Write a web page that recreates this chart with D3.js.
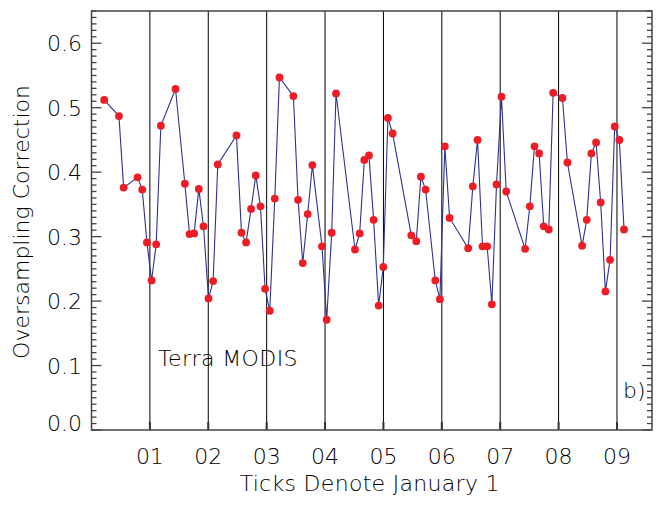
<!DOCTYPE html>
<html>
<head>
<meta charset="utf-8">
<script src="https://cdn.jsdelivr.net/npm/d3@7"></script>
<style>
body { margin: 0; background: #fff; }
text { font-family: "DejaVu Sans", sans-serif; font-weight: 200; fill: #000; }
</style>
</head>
<body>
<script>
"use strict";
// decimal year of each sample and its correction value
const years = [2000.218, 2000.470, 2000.550, 2000.789, 2000.869, 2000.949, 2001.029, 2001.108, 2001.188, 2001.439,
	2001.599, 2001.679, 2001.758, 2001.838, 2001.918, 2002.004, 2002.083, 2002.163, 2002.483, 2002.569,
	2002.648, 2002.733, 2002.814, 2002.894, 2002.973, 2003.053, 2003.139, 2003.219, 2003.458, 2003.538,
	2003.618, 2003.703, 2003.783, 2003.948, 2004.028, 2004.114, 2004.188, 2004.513, 2004.593, 2004.673,
	2004.752, 2004.832, 2004.918, 2004.998, 2005.077, 2005.157, 2005.477, 2005.563, 2005.642, 2005.722,
	2005.888, 2005.967, 2006.052, 2006.133, 2006.452, 2006.531, 2006.612, 2006.697, 2006.777, 2006.857,
	2006.937, 2007.022, 2007.103, 2007.427, 2007.507, 2007.587, 2007.667, 2007.746, 2007.832, 2007.907,
	2008.066, 2008.151, 2008.403, 2008.482, 2008.562, 2008.642, 2008.721, 2008.802, 2008.882, 2008.961,
	2009.041, 2009.121];
const values = [0.512, 0.487, 0.376, 0.392, 0.373, 0.291, 0.232, 0.288, 0.472, 0.529,
	0.382, 0.304, 0.305, 0.374, 0.316, 0.204, 0.231, 0.412, 0.457, 0.306,
	0.291, 0.343, 0.395, 0.347, 0.219, 0.185, 0.359, 0.547, 0.518, 0.357,
	0.259, 0.335, 0.411, 0.285, 0.171, 0.306, 0.522, 0.280, 0.305, 0.419,
	0.426, 0.326, 0.193, 0.253, 0.484, 0.460, 0.302, 0.293, 0.393, 0.373,
	0.232, 0.203, 0.440, 0.329, 0.282, 0.378, 0.450, 0.285, 0.285, 0.195,
	0.381, 0.517, 0.370, 0.281, 0.347, 0.440, 0.429, 0.316, 0.311, 0.523,
	0.515, 0.415, 0.286, 0.326, 0.429, 0.446, 0.353, 0.215, 0.264, 0.471,
	0.450, 0.311];
const yearTicks = [2001, 2002, 2003, 2004, 2005, 2006, 2007, 2008, 2009];
const yearLabels = ["01", "02", "03", "04", "05", "06", "07", "08", "09"];
const valueTicks = [0.0, 0.1, 0.2, 0.3, 0.4, 0.5, 0.6];

const w = 658, h = 505;
const pl = 91.5, pr = 652, pt = 11, pb = 430;

const x = d3.scaleLinear().domain([2000, 2009.6]).range([pl, pr]);
const y = d3.scaleLinear().domain([0, 0.65]).range([pb, pt]);

const svg = d3.select("body").append("svg").attr("width", w).attr("height", h);

// year lines through the whole plot
svg.append("g").selectAll("line").data(yearTicks).enter().append("line")
	.attr("x1", d => x(d)).attr("x2", d => x(d)).attr("y1", pt).attr("y2", pb)
	.attr("stroke", "#000").attr("stroke-width", 1);
svg.append("g").selectAll("line").data(yearTicks).enter().append("line")
	.attr("x1", d => x(d)).attr("x2", d => x(d)).attr("y1", pb).attr("y2", pb - 8)
	.attr("stroke", "#333").attr("stroke-width", 2);

// frame
svg.append("rect").attr("x", pl).attr("y", pt).attr("width", pr - pl).attr("height", pb - pt)
	.attr("fill", "none").attr("stroke", "#444").attr("stroke-width", 1.5);

// y ticks on both sides, major every 0.1, minor every 0.01
const minor = d3.range(0, 66).map(i => i / 100);
const yt = svg.append("g").attr("stroke", "#444").attr("stroke-width", 1.3);
minor.forEach(v => {
	const len = Math.round(v * 100) % 10 === 0 ? 10 : 5;
	yt.append("line").attr("x1", pl).attr("x2", pl + len).attr("y1", y(v)).attr("y2", y(v));
	yt.append("line").attr("x1", pr).attr("x2", pr - len).attr("y1", y(v)).attr("y2", y(v));
});

svg.append("g").selectAll("text").data(valueTicks).enter().append("text")
	.attr("x", 82).attr("y", d => (d === 0 ? y(d) - 7 : y(d)) + 8)
	.attr("text-anchor", "end").attr("font-size", 22)
	.text(d => d.toFixed(1));

svg.append("g").selectAll("text").data(yearTicks).enter().append("text")
	.attr("x", d => x(d)).attr("y", 463.5).attr("text-anchor", "middle").attr("font-size", 22)
	.text((d, i) => yearLabels[i]);

svg.append("text").attr("x", (pl + pr) / 2 - 2).attr("y", 491).attr("text-anchor", "middle")
	.attr("font-size", 22).attr("letter-spacing", 0.3).text("Ticks Denote January 1");
svg.append("text").attr("transform", "translate(28.5," + 222 + ") rotate(-90)").attr("text-anchor", "middle")
	.attr("font-size", 22).text("Oversampling Correction");
svg.append("text").attr("x", 158).attr("y", 366).attr("font-size", 22).attr("letter-spacing", 0.4).text("Terra MODIS");
svg.append("text").attr("x", 623).attr("y", 398).attr("font-size", 22).text("b)");

const pts = years.map((d, i) => [d, values[i]]);
svg.append("path").datum(pts)
	.attr("d", d3.line().x(d => x(d[0])).y(d => y(d[1])))
	.attr("fill", "none").attr("stroke", "#2e3192").attr("stroke-width", 1.1);
svg.append("g").selectAll("circle").data(pts).enter().append("circle")
	.attr("cx", d => x(d[0])).attr("cy", d => y(d[1])).attr("r", 3.9)
	.attr("fill", "#ee1c24");
</script>
</body>
</html>
